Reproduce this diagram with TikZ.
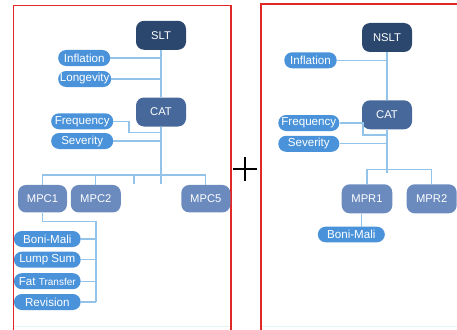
\documentclass[tikz,border=0pt]{standalone}
\usepackage{fontspec}
\setmainfont{Liberation Sans}
\definecolor{navy}{HTML}{2C476E}
\definecolor{catblue}{HTML}{46689B}
\definecolor{mpcblue}{HTML}{6B8BBF}
\definecolor{pillblue}{HTML}{4A93DA}
\definecolor{linkblue}{HTML}{94C3EA}
\definecolor{framered}{HTML}{E02828}
\definecolor{faintline}{HTML}{E2F6F6}
\begin{document}
\begin{tikzpicture}[x=1pt,y=-1pt,
  box/.style={rectangle, rounded corners=8pt, minimum width=50pt, minimum height=29pt,
    inner sep=0pt, text=white, font=\fontsize{11.2}{12}\selectfont},
  topbox/.style={box, fill=navy},
  midbox/.style={box, fill=catblue},
  leafbox/.style={box, fill=mpcblue, minimum width=49pt, minimum height=27.5pt},
  pill/.style={rectangle, rounded corners=7.8pt, fill=pillblue, text=white, inner sep=0pt,
    minimum height=16pt, font=\fontsize{11.6}{12}\selectfont},
  link/.style={draw=linkblue, line width=1.2pt},
  frame/.style={draw=framered, line width=1.6pt}]
\useasboundingbox (0,0) rectangle (457,329);

% panel frames
\draw[faintline, line width=0.8pt] (14,326) -- (230,326) (262,326) -- (457,326);
\draw[frame] (13.3,340) -- (13.3,5.7) -- (231,5.7) -- (231,340);
\draw[frame] (260.7,340) -- (260.7,4.3) -- (470,4.3);

% plus sign between the panels
\draw[line width=1.8pt] (233,169) -- (257,169) (245,157) -- (245,181);

% ---------- left tree ----------
\node[topbox] (slt) at (161,35.3) {SLT};
\node[pill, minimum width=52pt] (infl) at (84.2,58) {Inflation};
\node[pill, minimum width=53pt] (longv) at (84.7,79) {Longevity};
\node[midbox] (cat) at (161,112) {CAT};
\node[pill, minimum width=62pt] (freq) at (82.2,121.3) {Frequency};
\node[pill, minimum width=62pt] (sev) at (82.2,141) {Severity};
\node[leafbox] (mpc1) at (42.5,198.7) {MPC1};
\node[leafbox, minimum width=50pt] (mpc2) at (95.8,198.7) {MPC2};
\node[leafbox] (mpc5) at (205.8,198.7) {MPC5};
\node[pill, minimum width=66.7pt] (boni) at (47.3,239) {Boni-Mali};
\node[pill, minimum width=66.7pt] (lump) at (47.3,259.7) {Lump Sum};
\node[pill, minimum width=66.7pt] (fat) at (47.3,281.2) {Fat {\fontsize{10}{12}\selectfont Transfer}};
\node[pill, minimum width=66.7pt] (rev) at (47.3,302) {Revision};

\coordinate (busL) at (0,175);
\coordinate (stubL) at (0,184);
\coordinate (fjogL) at (129,132.7);
\coordinate (tickL) at (134,175);
\coordinate (railL) at (96,221.7);

\draw[link] (slt) -- (cat);
\draw[link] (cat.south) -- (cat.south |- stubL);
\draw[link] (infl.east) -- (infl.east -| slt);
\draw[link] (longv.east) -- (longv.east -| slt);
\draw[link] (freq.east) -| (fjogL) -- (fjogL -| cat);
\draw[link] (sev.east) -- (sev.east -| cat);
\draw[link] (mpc1.north) -- (mpc1.north |- busL) -- (mpc5.north |- busL) -- (mpc5.north);
\draw[link] (mpc2.north) -- (mpc2.north |- busL);
\draw[link] (tickL) -- (tickL |- stubL);
\draw[link] (mpc1.south) |- (railL) -- (railL |- rev.east);
\foreach \c in {boni,lump,fat,rev}
  \draw[link] (\c.east) -- (\c.east -| railL);

% ---------- right tree ----------
\node[topbox] (nslt) at (387,37.5) {NSLT};
\node[pill, minimum width=52.4pt] (inflR) at (310.5,60.3) {Inflation};
\node[midbox] (catR) at (387,114.8) {CAT};
\node[pill, minimum width=61pt] (freqR) at (308.8,123) {Frequency};
\node[pill, minimum width=61pt] (sevR) at (308.8,143.8) {Severity};
\node[leafbox, minimum width=50.6pt, minimum height=29pt] (mpr1) at (367,198.8) {MPR1};
\node[leafbox, minimum width=50pt, minimum height=29pt] (mpr2) at (431.7,198.8) {MPR2};
\node[pill, minimum width=67pt, minimum height=15.6pt] (boniR) at (351.3,234.5) {Boni-Mali};

\coordinate (busR) at (0,169.3);
\coordinate (stubR) at (0,173.3);
\coordinate (fjogR) at (363,135);
\coordinate (dropR) at (361.7,0);

\draw[link] (nslt) -- (catR);
\draw[link] (catR.south) -- (catR.south |- stubR);
\draw[link] (inflR.east) -- (inflR.east -| nslt);
\draw[link] (freqR.east) -| (fjogR) -- (fjogR -| catR);
\draw[link] (sevR.east) -- (sevR.east -| catR);
\draw[link] (mpr1.north) -- (mpr1.north |- busR) -- (mpr2.north |- busR) -- (mpr2.north);
\draw[link] (dropR |- mpr1.south) -- (dropR |- boniR.north);
\end{tikzpicture}
\end{document}
